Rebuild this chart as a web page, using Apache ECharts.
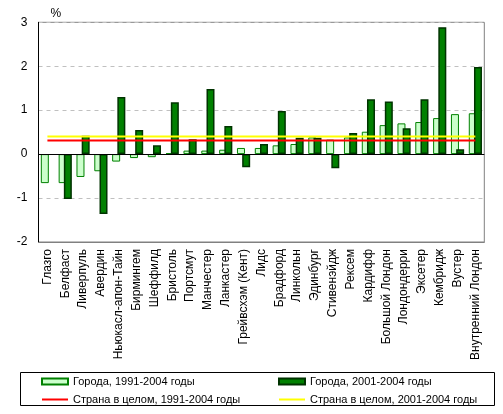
<!DOCTYPE html>
<html>
<head>
<meta charset="utf-8">
<script src="https://cdn.jsdelivr.net/npm/echarts@6/dist/echarts.min.js"></script>
<style>
    html, body { margin: 0; padding: 0; background: #fff; }
    #chart { width: 503px; height: 414px; }
</style>
</head>
<body>
<div id="chart"></div>
<script>
// города
var cities = ['Глазго', 'Белфаст', 'Ливерпуль', 'Авердин', 'Ньюкасл-апон-Тайн', 'Бирмингем',
    'Шеффилд', 'Бристоль', 'Портсмут', 'Манчестер', 'Ланкастер', 'Грейвсхэм (Кент)', 'Лидс',
    'Брадфорд', 'Линкольн', 'Эдинбург', 'Стивенэйдж', 'Рексем', 'Кардифф', 'Большой Лондон',
    'Лондондерри', 'Эксетер', 'Кембридж', 'Вустер', 'Внутренний Лондон'];

// Города, 1991-2004 годы
var cities9104 = [-0.66, -0.66, -0.52, -0.39, -0.17, -0.09, -0.07, 0.02, 0.08, 0.08, 0.10, 0.14, 0.14,
    0.20, 0.23, 0.38, 0.33, 0.38, 0.51, 0.66, 0.70, 0.73, 0.82, 0.91, 0.93];

// Города, 2001-2004 годы
var cities0104 = ['-', -1.02, 0.42, -1.36, 1.30, 0.55, 0.20, 1.18, 0.34, 1.48, 0.64, -0.30, 0.23,
    0.98, 0.37, 0.37, -0.32, 0.48, 1.25, 1.20, 0.59, 1.25, 2.89, 0.11, 1.98];

// Страна в целом
var country9104 = 0.31;
var country0104 = 0.40;

var yTicks = [-2, -1, 0, 1, 2, 3];

var FONT = '"Liberation Sans", Arial, sans-serif';
var LINE_ICON = 'path://M0 0H26V2H0Z';
var myChart = echarts.init(document.getElementById('chart'));

var options = {
    animation: false,
    textStyle: { fontFamily: FONT },
    grid: {
        left: 38.5,
        right: 18.7,
        top: 22.3,
        bottom: 172,
        show: true,
        borderColor: '#808080',
        borderWidth: 1,
    },
    legend: [
        {
            left: 36,
            top: 371,
            orient: 'vertical',
            itemWidth: 26,
            itemHeight: 6,
            itemGap: 7,
            textStyle: { fontSize: 11, color: '#000', fontFamily: FONT },
            data: [
                { name: 'Города, 1991-2004 годы', icon: 'rect' },
                { name: 'Страна в целом, 1991-2004 годы', icon: LINE_ICON }
            ]
        },
        {
            left: 273,
            top: 371,
            orient: 'vertical',
            itemWidth: 26,
            itemHeight: 6,
            itemGap: 7,
            textStyle: { fontSize: 11, color: '#000', fontFamily: FONT },
            data: [
                { name: 'Города, 2001-2004 годы', icon: 'rect' },
                { name: 'Страна в целом, 2001-2004 годы', icon: LINE_ICON }
            ]
        }
    ],
    graphic: [
        {
            type: 'rect',
            shape: { x: 20.5, y: 372.5, width: 474, height: 33 },
            style: { fill: 'none', stroke: '#000', lineWidth: 1 },
            silent: true,
        }
    ],
    xAxis: {
        type: 'category',
        data: cities,
        boundaryGap: true,
        axisLine: { show: true, onZero: false, lineStyle: { color: '#808080' } },
        axisTick: { show: false },
        axisLabel: {
            rotate: 90,
            interval: 0,
            color: '#000',
            fontSize: 12,
            margin: 7,
            fontFamily: FONT,
        },
    },
    yAxis: {
        type: 'value',
        min: -2,
        max: 3,
        interval: 1,
        name: '%',
        nameLocation: 'end',
        nameGap: 3,
        nameTextStyle: { color: '#000', fontSize: 12, align: 'left', padding: [0, 0, 0, 12], fontFamily: FONT },
        axisLine: { show: true, lineStyle: { color: '#000' } },
        axisTick: { show: false },
        axisLabel: {
            color: '#000',
            fontSize: 12,
            margin: 11,
            fontFamily: FONT,
            formatter: function (v) { return yTicks.indexOf(v) >= 0 ? String(v) : ''; }
        },
        splitLine: {
            show: true,
            lineStyle: { color: '#c0c0c0', type: [4, 4] }
        },
    },
    series: [
        {
            name: 'Города, 1991-2004 годы',
            type: 'bar',
            data: cities9104,
            barWidth: 8,
            barGap: '-35%',
            itemStyle: { color: '#ccffcc', borderColor: '#008000', borderWidth: 1 },
            markLine: {
                silent: true,
                symbol: 'none',
                label: { show: false },
                lineStyle: { color: '#000', type: 'solid', width: 1 },
                data: [{ yAxis: 0 }],
                z: 5,
            },
        },
        {
            name: 'Города, 2001-2004 годы',
            type: 'bar',
            data: cities0104,
            barWidth: 8,
            itemStyle: { color: '#008000', borderColor: '#003300', borderWidth: 1.5 },
        },
        {
            name: 'Страна в целом, 1991-2004 годы',
            type: 'line',
            data: cities.map(function () { return country9104; }),
            symbol: 'none',
            lineStyle: { color: '#ff0000', width: 2 },
            itemStyle: { color: '#ff0000' },
            z: 10,
        },
        {
            name: 'Страна в целом, 2001-2004 годы',
            type: 'line',
            data: cities.map(function () { return country0104; }),
            symbol: 'none',
            lineStyle: { color: '#ffff00', width: 2 },
            itemStyle: { color: '#ffff00' },
            z: 10,
        }
    ]
};

myChart.setOption(options);
</script>
</body>
</html>
